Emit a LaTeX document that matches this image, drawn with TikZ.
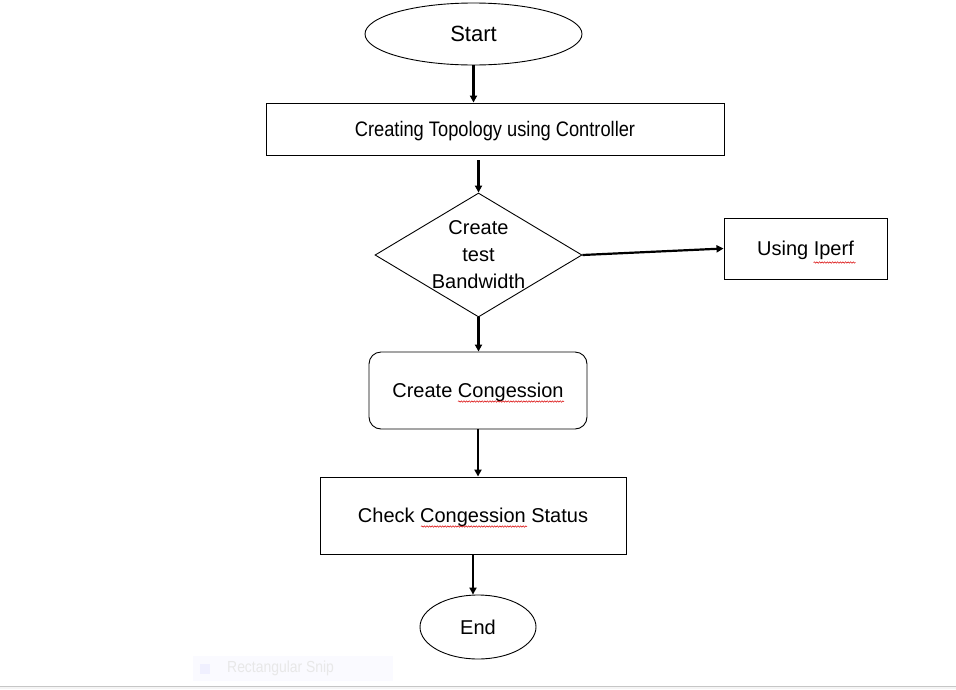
\documentclass[tikz,border=0pt]{standalone}
\usepackage{fontspec}
\setmainfont{Liberation Sans}
\newfontfamily\narrowfont[FakeStretch=0.87]{Liberation Sans}
\usetikzlibrary{shapes.geometric,arrows.meta,decorations.pathmorphing,calc}
\begin{document}
\begin{tikzpicture}[x=1pt,y=-1pt,
  box/.style={draw, line width=0.9pt, inner sep=0pt, align=center, text depth=0pt, font=\fontsize{20}{27}\selectfont},
  term/.style={ellipse, draw, line width=0.9pt, inner sep=0pt},
  decision/.style={diamond, draw, line width=0.9pt, inner sep=0pt, aspect=1.67},
  arr/.style={line width=2.2pt, -{Triangle[length=7pt,width=7pt]}},
  squig/.style={red!85!black, line width=0.5pt, decorate, decoration={snake, amplitude=0.7pt, segment length=2.6pt}}]
\useasboundingbox (0,0) rectangle (956,689);
\fill[white] (0,0) rectangle (956,689);

% nodes
\node[term, minimum width=217pt, minimum height=62pt, font=\fontsize{22}{26}\selectfont] (start) at (473.5,34) {Start};
\node[box, minimum width=458pt, minimum height=52pt, font=\narrowfont\fontsize{21}{26}\selectfont] (topo) at (495,129) {Creating Topology using Controller};
\node[decision, minimum width=207pt, minimum height=124pt] (dec) at (478.5,255) {};
\node[align=center, inner sep=0pt, font=\fontsize{20}{27}\selectfont] (dectext) at (dec.center) {Create\\test\\Bandwidth};
\node[box, minimum width=163pt, minimum height=61pt] (iperf) at (805.5,248.5) {Using Iperf};
\node[box, rounded corners=12pt, minimum width=218pt, minimum height=77pt] (cong) at (478,390.5) {Create Congession};
\node[box, minimum width=306pt, minimum height=77pt] (check) at (473,515.5) {Check Congession Status};
\node[term, minimum width=116pt, minimum height=64pt, font=\fontsize{20}{24}\selectfont] (endn) at (478,627) {End};

% connectors
\draw[arr] (start.south) -- (start.south |- topo.north);
\draw[arr] ($(dec.north |- topo.south)+(0,5)$) -- (dec.north);
\draw[arr] (dec.east) -- (iperf.west);
\draw[arr] (dec.south) -- (dec.south |- cong.north);
\draw[arr] (cong.south) -- (cong.south |- check.north);
\draw[arr] (check.south) -- (check.south |- endn.north);

% spell-check squiggles
\draw[squig] ($(cong.center)+(-20,11)$) -- ($(cong.center)+(86,11)$);
\draw[squig] ($(check.center)+(-52,11)$) -- ($(check.center)+(54,11)$);
\draw[squig] ($(iperf.center)+(8,14)$) -- ($(iperf.center)+(50,14)$);

% screenshot artefacts at the bottom
\fill[blue!2!white] (193,656) rectangle (393,681);
\fill[blue!6!white] (200,664) rectangle (210,674);
\node[anchor=west, inner sep=0pt, text=gray!18, font=\narrowfont\fontsize{16}{16}\selectfont] (snip) at (227,668.5) {Rectangular Snip};
\fill[gray!8] (0,687) rectangle (956,689);
\draw[gray!45, line width=1pt] (0,686) -- (956,686);
\end{tikzpicture}
\end{document}
